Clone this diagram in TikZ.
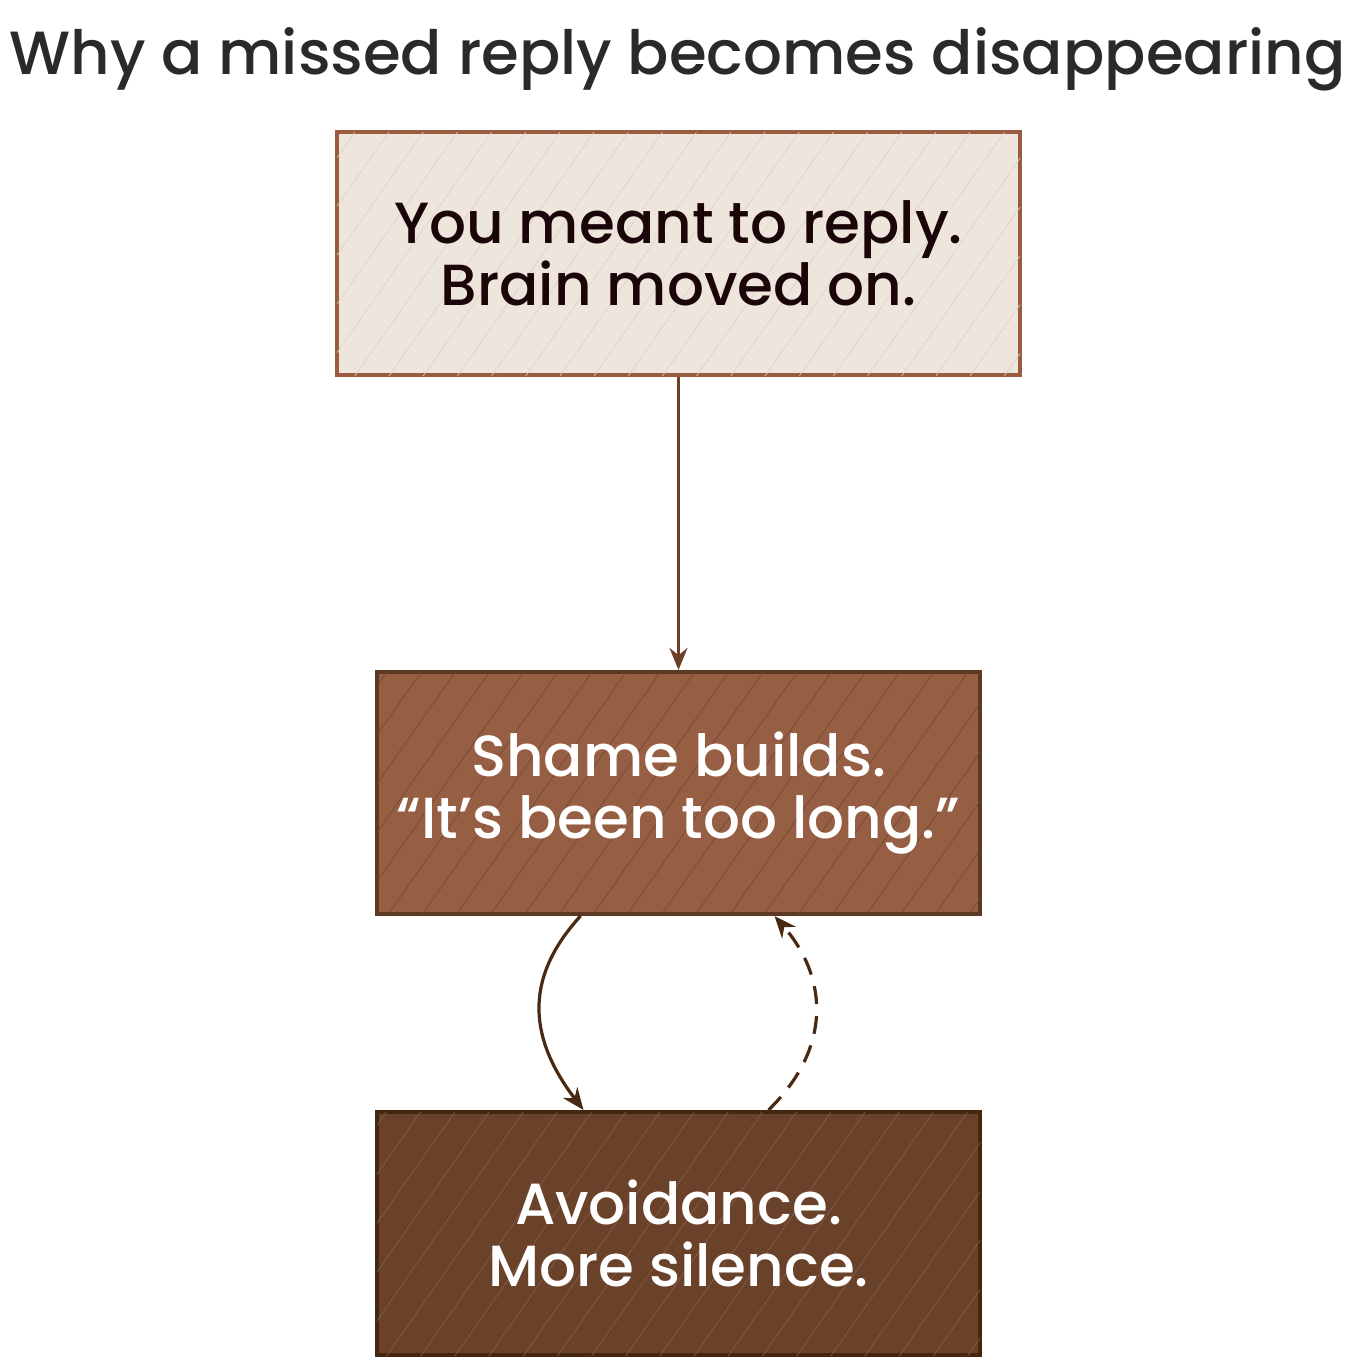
\documentclass[tikz,border=0pt]{standalone}
\usepackage{fontspec}
\setmainfont{Poppins}[BoldFont={Poppins Medium}]
\usetikzlibrary{arrows.meta,patterns.meta}
\definecolor{boxAfill}{HTML}{EEE5DD}
\definecolor{boxAline}{HTML}{9A5C3E}
\definecolor{boxBfill}{HTML}{965E43}
\definecolor{boxBline}{HTML}{5C3920}
\definecolor{boxCfill}{HTML}{6A4129}
\definecolor{boxCline}{HTML}{45260F}
\definecolor{arrA}{HTML}{6E3F28}
\definecolor{arrB}{HTML}{4A2912}
\definecolor{titlecol}{HTML}{2A2A2A}
\definecolor{darktext}{HTML}{1A0508}
\tikzset{
  box/.style={rectangle, line width=2pt, align=center, inner sep=0pt,
    font=\fontsize{29}{31}\selectfont\bfseries},
  hatch/.style={pattern={Lines[angle=55,distance=14pt,line width=0.3pt]}},
  conn/.style={line width=1.6pt, -{Stealth[length=11pt,width=9pt]}},
}
\begin{document}
\begin{tikzpicture}[x=0.5pt,y=-0.5pt]
\useasboundingbox (0,0) rectangle (1355,1371);
\node[font=\fontsize{30.5}{36}\selectfont\bfseries, text=titlecol, anchor=base] (title) at (677.5,74) {Why a missed reply becomes disappearing};
\node[box, fill=boxAfill, draw=boxAline, minimum width=341.5pt, minimum height=121.5pt] (a) at (678.5,253.5) {\phantom{X}};
\node[box, fill=boxBfill, draw=boxBline, minimum width=301.5pt, minimum height=121pt] (b) at (678.5,793) {\phantom{X}};
\node[box, fill=boxCfill, draw=boxCline, minimum width=301.5pt, minimum height=121.5pt] (c) at (678.5,1233.5) {\phantom{X}};
\fill[pattern color=black!25!boxBfill, hatch] ([shift={(1pt,1pt)}]b.south west) rectangle ([shift={(-1pt,-1pt)}]b.north east);
\fill[pattern color=white!18!boxCfill, hatch] ([shift={(1pt,1pt)}]c.south west) rectangle ([shift={(-1pt,-1pt)}]c.north east);
\fill[pattern color=black!8!boxAfill, hatch] ([shift={(1pt,1pt)}]a.south west) rectangle ([shift={(-1pt,-1pt)}]a.north east);
\node[box, text=darktext] (ta) at (a) {You meant to reply.\\Brain moved on.};
\node[box, text=white] (tb) at (b) {Shame builds.\\“It’s been too long.”};
\node[box, text=white] (tc) at (c) {Avoidance.\\More silence.};
\draw[conn, draw=arrA] (a.south) -- (b.north);
\draw[conn, draw=arrB] ([xshift=-49pt]b.south) .. controls (522,980) and (530,1040) .. ([xshift=-47.5pt]c.north);
\draw[conn, draw=arrB, dash pattern=on 9pt off 6pt] ([xshift=45pt]c.north) .. controls (830,1050) and (830,980) .. ([xshift=48pt]b.south);
\end{tikzpicture}
\end{document}
